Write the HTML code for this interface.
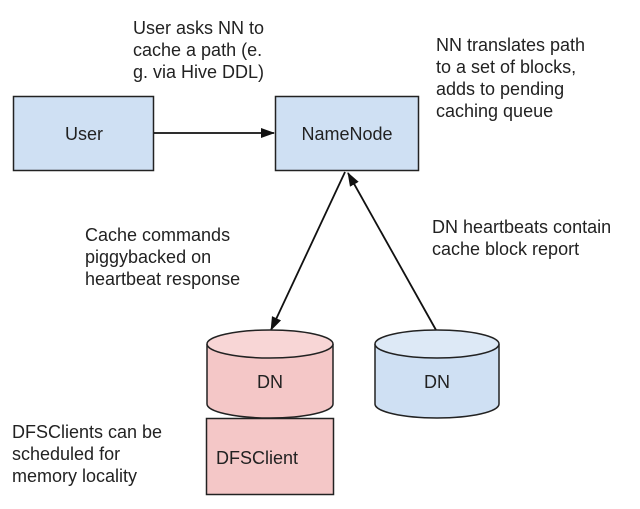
<!DOCTYPE html>
<html><head><meta charset="utf-8"><style>
html,body{margin:0;padding:0;background:#fff;}
svg{display:block;}
text{font-family:"Liberation Sans",Arial,sans-serif;font-size:18px;fill:#222;}
</style></head><body>
<svg width="640" height="509" viewBox="0 0 640 509" xmlns="http://www.w3.org/2000/svg">
<defs>
<marker id="ah" markerWidth="14" markerHeight="12" refX="13" refY="6" orient="auto" markerUnits="userSpaceOnUse">
<path d="M0,1 L14,6 L0,11 Z" fill="#111"/>
</marker>
</defs>
<rect x="13.5" y="96.5" width="140" height="74" fill="#cfe0f3" stroke="#222" stroke-width="1.5"/>
<text x="84" y="140" text-anchor="middle">User</text>
<rect x="275.5" y="96.5" width="143" height="74" fill="#cfe0f3" stroke="#222" stroke-width="1.5"/>
<text x="347" y="140" text-anchor="middle">NameNode</text>
<line x1="154" y1="133" x2="274" y2="133" stroke="#111" stroke-width="1.8" marker-end="url(#ah)"/>
<line x1="345" y1="172" x2="271" y2="330" stroke="#111" stroke-width="1.8" marker-end="url(#ah)"/>
<line x1="436" y1="330" x2="348" y2="173" stroke="#111" stroke-width="1.8" marker-end="url(#ah)"/>
<rect x="206.5" y="418.5" width="127" height="76" fill="#f4c7c7" stroke="#222" stroke-width="1.5"/>
<text x="216" y="464">DFSClient</text>
<path d="M207,344 L207,404 A63,14 0 0 0 333,404 L333,344" fill="#f4c7c7" stroke="#222" stroke-width="1.5"/>
<ellipse cx="270" cy="344" rx="63" ry="14" fill="#f8d6d6" stroke="#222" stroke-width="1.5"/>
<text x="270" y="388" text-anchor="middle">DN</text>
<path d="M375,344 L375,404 A62,14 0 0 0 499,404 L499,344" fill="#cfe0f3" stroke="#222" stroke-width="1.5"/>
<ellipse cx="437" cy="344" rx="62" ry="14" fill="#dde9f6" stroke="#222" stroke-width="1.5"/>
<text x="437" y="388" text-anchor="middle">DN</text>
<text x="133" y="34">User asks NN to</text>
<text x="133" y="56">cache a path (e.</text>
<text x="133" y="78">g. via Hive DDL)</text>
<text x="436" y="51">NN translates path</text>
<text x="436" y="73">to a set of blocks,</text>
<text x="436" y="95">adds to pending</text>
<text x="436" y="117">caching queue</text>
<text x="85" y="241">Cache commands</text>
<text x="85" y="263">piggybacked on</text>
<text x="85" y="285">heartbeat response</text>
<text x="432" y="233">DN heartbeats contain</text>
<text x="432" y="255">cache block report</text>
<text x="12" y="438">DFSClients can be</text>
<text x="12" y="460">scheduled for</text>
<text x="12" y="482">memory locality</text>
</svg>
</body></html>
